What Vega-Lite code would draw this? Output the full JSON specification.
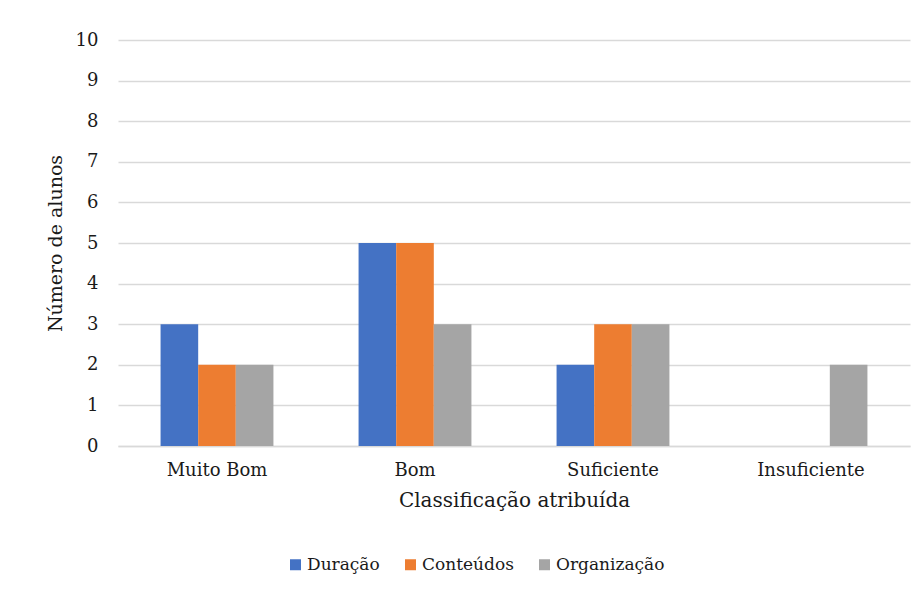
{
  "$schema": "https://vega.github.io/schema/vega-lite/v6.json",
  "width": 792,
  "height": 406,
  "autosize": {"type": "none"},
  "padding": {"left": 118, "top": 40, "right": 14, "bottom": 144},
  "background": "white",
  "data": {
    "values": [
      {"cat": "Muito Bom", "serie": "Duração", "v": 3},
      {"cat": "Muito Bom", "serie": "Conteúdos", "v": 2},
      {"cat": "Muito Bom", "serie": "Organização", "v": 2},
      {"cat": "Bom", "serie": "Duração", "v": 5},
      {"cat": "Bom", "serie": "Conteúdos", "v": 5},
      {"cat": "Bom", "serie": "Organização", "v": 3},
      {"cat": "Suficiente", "serie": "Duração", "v": 2},
      {"cat": "Suficiente", "serie": "Conteúdos", "v": 3},
      {"cat": "Suficiente", "serie": "Organização", "v": 3},
      {"cat": "Insuficiente", "serie": "Duração", "v": 0},
      {"cat": "Insuficiente", "serie": "Conteúdos", "v": 0},
      {"cat": "Insuficiente", "serie": "Organização", "v": 2}
    ]
  },
  "mark": {"type": "bar"},
  "encoding": {
    "x": {
      "field": "cat",
      "type": "nominal",
      "sort": ["Muito Bom", "Bom", "Suficiente", "Insuficiente"],
      "scale": {"paddingInner": 0.43, "paddingOuter": 0.215},
      "axis": {
        "title": "Classificação atribuída",
        "labelAngle": 0,
        "ticks": false,
        "labelPadding": 15,
        "titlePadding": 11,
        "domainColor": "#d9d9d9",
        "domainWidth": 1.5
      }
    },
    "xOffset": {
      "field": "serie",
      "type": "nominal",
      "sort": ["Duração", "Conteúdos", "Organização"],
      "scale": {"paddingInner": 0, "paddingOuter": 0}
    },
    "y": {
      "field": "v",
      "type": "quantitative",
      "scale": {"domain": [0, 10]},
      "axis": {
        "title": "Número de alunos",
        "values": [0, 1, 2, 3, 4, 5, 6, 7, 8, 9, 10],
        "ticks": false,
        "domain": false,
        "labelPadding": 20,
        "titlePadding": 10,
        "titleFontSize": 19,
        "gridColor": "#d9d9d9",
        "gridWidth": 1.5
      }
    },
    "color": {
      "field": "serie",
      "type": "nominal",
      "sort": ["Duração", "Conteúdos", "Organização"],
      "scale": {
        "domain": ["Duração", "Conteúdos", "Organização"],
        "range": ["#4472C4", "#ED7D31", "#A5A5A5"]
      },
      "legend": {
        "title": null,
        "orient": "none",
        "legendX": 169,
        "legendY": 516,
        "direction": "horizontal",
        "symbolType": "square",
        "symbolSize": 121,
        "symbolStrokeWidth": 0,
        "labelOffset": 3,
        "columnPadding": 22
      }
    }
  },
  "config": {
    "font": "DejaVu Serif",
    "view": {"stroke": null},
    "axis": {
      "labelFont": "DejaVu Serif",
      "titleFont": "DejaVu Serif",
      "labelFontSize": 18,
      "titleFontSize": 20,
      "titleFontWeight": "normal",
      "labelColor": "#1a1a1a",
      "titleColor": "#1a1a1a"
    },
    "legend": {
      "labelFont": "DejaVu Serif",
      "labelFontSize": 17,
      "labelColor": "#1a1a1a"
    }
  }
}
